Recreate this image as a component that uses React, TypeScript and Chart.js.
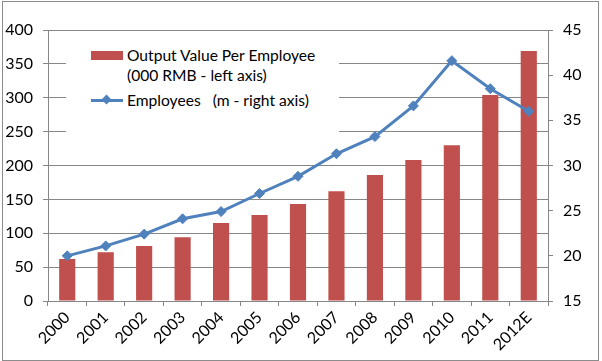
import React, { useEffect, useRef } from "react";
import { Chart, registerables } from "chart.js";

Chart.register(...registerables);

const categories = ["2000", "2001", "2002", "2003", "2004", "2005", "2006", "2007", "2008", "2009", "2010", "2011", "2012E"];
const outputPerEmployee = [62, 72, 81, 94, 115, 127, 143, 162, 186, 208, 230, 304, 369];
const employees = [20.0, 21.1, 22.4, 24.1, 24.9, 26.9, 28.8, 31.3, 33.2, 36.6, 41.6, 38.5, 36.0];
const leftAxis = { min: 0, max: 400, step: 50 };
const rightAxis = { min: 15, max: 45, step: 5 };
const barLabel = "Output Value Per Employee";
const barLabel2 = "(000 RMB - left axis)";
const lineLabel = "Employees   (m - right axis)";

const BAR_COLOR = "#C0504D";
const LINE_COLOR = "#4F81BD";
const GRID = "#868686";
const FONT = "Lato, 'Liberation Sans', sans-serif";

export default function App() {
  const ref = useRef<HTMLCanvasElement | null>(null);

  useEffect(() => {
    document.body.style.margin = "0";
    const canvas = ref.current;
    if (!canvas) return;
    const chart = new Chart(canvas, {
      type: "bar",
      data: {
        labels: categories,
        datasets: [
          {
            type: "line",
            label: lineLabel,
            data: employees,
            yAxisID: "y1",
            borderColor: LINE_COLOR,
            backgroundColor: LINE_COLOR,
            borderWidth: 3,
            pointStyle: "rectRot",
            pointRadius: 5,
            pointBackgroundColor: LINE_COLOR,
            pointBorderColor: LINE_COLOR,
            pointBorderWidth: 1,
            tension: 0,
            order: 0,
          },
          {
            type: "bar",
            label: barLabel,
            data: outputPerEmployee,
            yAxisID: "y",
            backgroundColor: BAR_COLOR,
            borderWidth: 0,
            categoryPercentage: 1,
            barPercentage: 0.42,
            order: 1,
          },
        ],
      },
      options: {
        responsive: false,
        animation: false,
        layout: { padding: { top: 30, left: 0, right: 0, bottom: 0 } },
        plugins: { legend: { display: false }, tooltip: { enabled: false } },
        scales: {
          x: {
            offset: true,
            grid: { offset: true, drawOnChartArea: false, drawTicks: true, tickLength: 5, color: GRID },
            border: { display: true, color: GRID },
            ticks: {
              color: "#000",
              font: { family: FONT, size: 16 },
              maxRotation: 45,
              minRotation: 45,
              padding: 2,
              autoSkip: false,
            },
            afterFit: (s: any) => {
              s.height = 60;
            },
          },
          y: {
            position: "left",
            min: leftAxis.min,
            max: leftAxis.max,
            ticks: { stepSize: leftAxis.step, color: "#000", font: { family: FONT, size: 16 }, padding: 10 },
            grid: { color: GRID, tickLength: 5, drawTicks: true },
            border: { display: true, color: GRID },
            afterFit: (s: any) => {
              s.width = 48;
            },
          },
          y1: {
            position: "right",
            min: rightAxis.min,
            max: rightAxis.max,
            ticks: { stepSize: rightAxis.step, color: "#000", font: { family: FONT, size: 16 }, padding: 10 },
            grid: { drawOnChartArea: false, color: GRID, tickLength: 5, drawTicks: true },
            border: { display: true, color: GRID },
            afterFit: (s: any) => {
              s.width = 54;
            },
          },
        },
      },
    });
    return () => chart.destroy();
  }, []);

  return (
    <div style={{ position: "absolute", left: 0, top: 0, width: 602, height: 361, background: "#fff", fontFamily: FONT }}>
      <canvas ref={ref} width={602} height={361} style={{ position: "absolute", left: 0, top: 0 }} />
      <div
        style={{
          position: "absolute",
          left: 2,
          top: 1,
          width: 595,
          height: 358,
          border: "1px solid #8c8c8c",
          pointerEvents: "none",
        }}
      />
      <div
        style={{
          position: "absolute",
          left: 66,
          top: 36,
          width: 273,
          height: 112,
          background: "#fff",
          fontSize: 15.6,
          color: "#000",
          lineHeight: "20px",
        }}
      >
        <div style={{ position: "absolute", left: 25, top: 15, width: 32, height: 9, background: BAR_COLOR }} />
        <div style={{ position: "absolute", left: 61, top: 9, whiteSpace: "pre" }}>{barLabel}</div>
        <div style={{ position: "absolute", left: 61, top: 29, whiteSpace: "pre" }}>{barLabel2}</div>
        <div style={{ position: "absolute", left: 25, top: 62.5, width: 32, height: 3, background: LINE_COLOR }} />
        <div
          style={{
            position: "absolute",
            left: 37,
            top: 60,
            width: 7,
            height: 7,
            background: LINE_COLOR,
            transform: "rotate(45deg)",
          }}
        />
        <div style={{ position: "absolute", left: 61, top: 54, whiteSpace: "pre" }}>{lineLabel}</div>
      </div>
    </div>
  );
}
